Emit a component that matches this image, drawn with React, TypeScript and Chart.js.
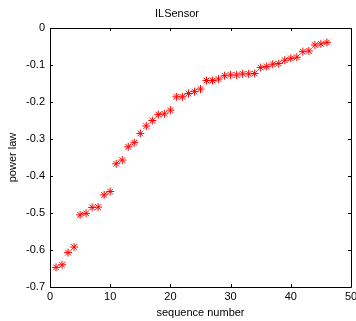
import React, { useEffect, useRef } from "react";
import { Chart, registerables } from "chart.js";

Chart.register(...registerables);

const sequence = [
  1, 2, 3, 4, 5, 6, 7, 8, 9, 10,
  11, 12, 13, 14, 15, 16, 17, 18, 19, 20,
  21, 22, 23, 24, 25, 26, 27, 28, 29, 30,
  31, 32, 33, 34, 35, 36, 37, 38, 39, 40,
  41, 42, 43, 44, 45, 46,
];
const powerLaw = [
  -0.647, -0.64, -0.607, -0.592, -0.505, -0.501, -0.485, -0.484, -0.451, -0.442,
  -0.367, -0.357, -0.321, -0.31, -0.285, -0.265, -0.25, -0.234, -0.232, -0.222,
  -0.186, -0.186, -0.177, -0.172, -0.165, -0.142, -0.142, -0.138, -0.129, -0.127,
  -0.127, -0.124, -0.124, -0.123, -0.107, -0.104, -0.098, -0.096, -0.087, -0.082,
  -0.079, -0.064, -0.062, -0.046, -0.043, -0.039,
];
const xTicks = [0, 10, 20, 30, 40, 50];
const yTicks = [-0.7, -0.6, -0.5, -0.4, -0.3, -0.2, -0.1, 0];

const FONT = "'Liberation Sans', Arial, Helvetica, sans-serif";

const boxPlugin = {
  id: "matlabBox",
  afterDraw(chart: any) {
    const { ctx, chartArea } = chart;
    const { left, right, top, bottom } = chartArea;
    const xs = chart.scales.x;
    const ys = chart.scales.y;
    ctx.save();
    ctx.strokeStyle = "#000";
    ctx.lineWidth = 1;
    ctx.beginPath();
    ctx.rect(Math.round(left) + 0.5, Math.round(top) + 0.5, Math.round(right - left), Math.round(bottom - top));
    ctx.stroke();
    const tl = 3;
    ctx.beginPath();
    xTicks.forEach((v) => {
      const px = Math.round(xs.getPixelForValue(v)) + 0.5;
      ctx.moveTo(px, bottom);
      ctx.lineTo(px, bottom - tl);
      ctx.moveTo(px, top);
      ctx.lineTo(px, top + tl);
    });
    yTicks.forEach((v) => {
      const py = Math.round(ys.getPixelForValue(v)) + 0.5;
      ctx.moveTo(left, py);
      ctx.lineTo(left + tl, py);
      ctx.moveTo(right, py);
      ctx.lineTo(right - tl, py);
    });
    ctx.stroke();
    ctx.restore();
  },
};

export default function App() {
  const ref = useRef<HTMLCanvasElement | null>(null);
  useEffect(() => {
    document.body.style.margin = "0";
    if (!ref.current) return;
    const chart = new Chart(ref.current, {
      type: "scatter",
      data: {
        datasets: [
          {
            data: sequence.map((s, i) => ({ x: s, y: powerLaw[i] })),
            pointStyle: "star",
            radius: 4,
            borderColor: "#ff0000",
            backgroundColor: "#ff0000",
            borderWidth: 1,
            showLine: false,
          },
        ],
      },
      options: {
        responsive: false,
        animation: false,
        layout: { padding: { left: 0, right: 2, top: 0, bottom: 0 } },
        plugins: {
          legend: { display: false },
          tooltip: { enabled: false },
          title: {
            display: true,
            text: "ILSensor",
            color: "#000",
            font: { family: FONT, size: 11, weight: "normal", lineHeight: 14 / 11 },
            padding: { top: 7, bottom: 7 },
          },
        },
        scales: {
          x: {
            type: "linear",
            min: 0,
            max: 50,
            afterFit: (s: any) => {
              s.height = 34;
              s.paddingLeft = 0;
              s.paddingRight = 0;
            },
            afterBuildTicks: (s: any) => {
              s.ticks = xTicks.map((v) => ({ value: v }));
            },
            ticks: {
              color: "#000",
              font: { family: FONT, size: 11 },
              padding: 3,
              maxRotation: 0,
              callback: (v: any) => String(v),
            },
            grid: { display: false, drawTicks: false },
            border: { display: false },
            title: {
              display: true,
              text: "sequence number",
              color: "#000",
              font: { family: FONT, size: 11 },
              padding: { top: 0, bottom: 1 },
            },
          },
          y: {
            type: "linear",
            min: -0.7,
            max: 0,
            afterFit: (s: any) => {
              s.width = 50;
              s.paddingTop = 0;
              s.paddingBottom = 0;
            },
            afterBuildTicks: (s: any) => {
              s.ticks = yTicks.map((v) => ({ value: v }));
            },
            ticks: {
              color: "#000",
              font: { family: FONT, size: 11 },
              padding: 5,
              callback: (v: any) => (Math.abs(Number(v)) < 1e-9 ? "0" : Number(v).toFixed(1)),
            },
            grid: { display: false, drawTicks: false },
            border: { display: false },
            title: {
              display: true,
              text: "power law",
              color: "#000",
              font: { family: FONT, size: 11 },
              padding: { top: 6, bottom: 0 },
            },
          },
        },
      },
      plugins: [boxPlugin],
    });
    return () => chart.destroy();
  }, []);
  return (
    <div style={{ position: "absolute", left: 0, top: 0, width: 356, height: 321, background: "#fff" }}>
      <canvas ref={ref} width={356} height={321} style={{ width: 356, height: 321, display: "block" }} />
    </div>
  );
}
